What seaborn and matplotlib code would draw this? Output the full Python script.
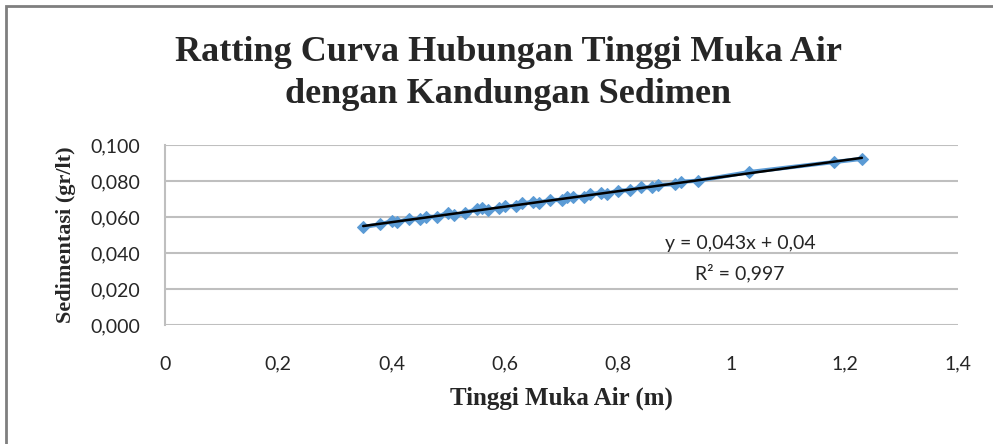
"""Rating curve: water level vs. sediment concentration (seaborn re-draw)."""
import matplotlib
matplotlib.use("Agg")
import matplotlib.pyplot as plt
from matplotlib.patches import Rectangle
import pandas as pd
import seaborn as sns

# ---------------------------------------------------------------------------
# Data
# ---------------------------------------------------------------------------
tinggi_muka_air = [0.35, 0.38, 0.40, 0.41, 0.43, 0.45, 0.46, 0.48, 0.50, 0.51,
                   0.53, 0.55, 0.56, 0.57, 0.59, 0.60, 0.62, 0.63, 0.65, 0.66,
                   0.68, 0.70, 0.71, 0.72, 0.74, 0.75, 0.77, 0.78, 0.80, 0.82,
                   0.84, 0.86, 0.87, 0.90, 0.91, 0.94, 1.03, 1.18, 1.23]
sedimentasi = [0.0545, 0.0560, 0.0576, 0.0571, 0.0590, 0.0588, 0.0603, 0.0601,
               0.0625, 0.0612, 0.0624, 0.0643, 0.0648, 0.0638, 0.0651, 0.0662,
               0.0660, 0.0676, 0.0684, 0.0679, 0.0696, 0.0695, 0.0710, 0.0714,
               0.0712, 0.0727, 0.0735, 0.0730, 0.0748, 0.0749, 0.0766, 0.0765,
               0.0779, 0.0783, 0.0797, 0.0802, 0.0850, 0.0906, 0.0924]

x_ticks = [0, 0.2, 0.4, 0.6, 0.8, 1.0, 1.2, 1.4]
x_tick_labels = ["0", "0,2", "0,4", "0,6", "0,8", "1", "1,2", "1,4"]
y_ticks = [0.0, 0.02, 0.04, 0.06, 0.08, 0.10]
y_tick_labels = ["0,000", "0,020", "0,040", "0,060", "0,080", "0,100"]

title = "Ratting Curva Hubungan Tinggi Muka Air\ndengan Kandungan Sedimen"
x_label = "Tinggi Muka Air (m)"
y_label = "Sedimentasi (gr/lt)"
eq_text = "y = 0,043x + 0,04"
r2_text = "R² = 0,997"

BLUE = "#5B9BD5"
GRID = "#BFBFBF"
SERIF = ["Liberation Serif", "DejaVu Serif"]
SANS = ["Lato", "DejaVu Sans"]

df = pd.DataFrame({"x": tinggi_muka_air, "y": sedimentasi})

sns.set_theme(style="white")
plt.rcParams["font.family"] = SANS

fig = plt.figure(figsize=(9.93, 4.44), dpi=100)
ax = fig.add_axes([0.166, 0.268, 0.799, 0.405])

sns.lineplot(data=df, x="x", y="y", ax=ax, color=BLUE, linewidth=3,
             marker="D", markersize=6, markeredgecolor=BLUE,
             estimator=None, sort=True)
sns.regplot(data=df, x="x", y="y", ax=ax, scatter=False, ci=None,
            truncate=True, line_kws={"color": "black", "linewidth": 1.8})

ax.set_xlim(0, 1.4)
ax.set_ylim(0, 0.1)
ax.set_xticks(x_ticks)
ax.set_xticklabels(x_tick_labels, fontsize=14, family=SANS)
ax.set_yticks(y_ticks)
ax.set_yticklabels(y_tick_labels, fontsize=14, family=SANS)
ax.tick_params(axis="x", length=0, pad=22)
ax.tick_params(axis="y", length=0, pad=18)
ax.yaxis.grid(True, color=GRID, linewidth=1.5)
for side in ("top", "right", "bottom"):
    ax.spines[side].set_visible(False)
ax.spines["left"].set_color(GRID)
ax.spines["left"].set_linewidth(1.5)

ax.set_xlabel(x_label, fontsize=18, fontweight="bold", family=SERIF, labelpad=10)
ax.set_ylabel(y_label, fontsize=16, fontweight="bold", family=SERIF, labelpad=10)

# trendline label (Excel style), placed in data units
ax.text(1.015, 0.0456, eq_text, fontsize=14, ha="center", va="center", family=SANS)
ax.text(1.015, 0.0289, r2_text, fontsize=14, ha="center", va="center", family=SANS)

fig.text(0.512, 0.835, title, fontsize=26, fontweight="bold", family=SERIF,
         ha="center", va="center", linespacing=1.35)

# outer chart border
fig.patches.append(Rectangle((0.006, -0.01), 1.0, 0.997, transform=fig.transFigure,
                             fill=False, edgecolor="#7F7F7F", linewidth=2))

fig.savefig("out.png", dpi=100)
